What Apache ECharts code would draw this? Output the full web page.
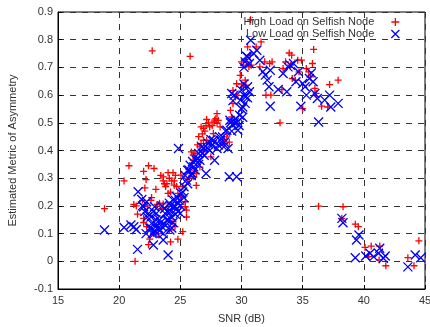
<!DOCTYPE html>
<html>
<head>
<meta charset="utf-8">
<script src="https://cdn.jsdelivr.net/npm/echarts@6/dist/echarts.min.js"></script>
<style>
  html, body { margin: 0; padding: 0; background: #fff; }
  #chart { width: 430px; height: 327px; }
</style>
</head>
<body>
<div id="chart"></div>
<script>
// axis ranges / ticks
const xTicks = [15, 20, 25, 30, 35, 40, 45]
const yTicks = [-0.1, 0, 0.1, 0.2, 0.3, 0.4, 0.5, 0.6, 0.7, 0.8, 0.9]

const seriesNames = ['High Load on Selfish Node', 'Low Load on Selfish Node']

// [SNR dB, metric]
const highLoad = [
  [18.8, 0.19], [20.4, 0.29], [20.8, 0.345], [21.3, 0.0], [21.2, 0.205], [21.4, 0.2], [21.5, 0.17],
  [21.9, 0.22], [22.0, 0.325], [22.2, 0.295], [22.1, 0.265], [22.4, 0.345], [22.7, 0.76], [22.85, 0.335],
  [23.0, 0.26], [22.65, 0.23], [22.5, 0.08], [22.4, 0.06], [22.0, 0.155], [22.25, 0.125], [23.2, 0.1],
  [23.4, 0.31], [23.6, 0.305], [23.7, 0.28], [23.8, 0.27], [24.0, 0.32], [24.4, 0.32], [24.3, 0.29],
  [24.5, 0.275], [24.0, 0.245], [24.2, 0.07], [24.8, 0.08], [25.2, 0.107], [24.56, 0.125], [23.6, 0.207],
  [23.3, 0.21], [25.5, 0.16], [25.4, 0.197], [24.4, 0.142], [24.1, 0.113], [24.7, 0.27], [25.1, 0.233],
  [25.8, 0.74], [25.9, 0.395], [26.05, 0.383], [26.1, 0.305], [26.3, 0.274], [26.6, 0.413], [26.7, 0.485],
  [26.9, 0.48], [27.15, 0.512], [27.4, 0.485], [27.75, 0.503], [27.9, 0.515], [28.1, 0.509], [27.7, 0.461],
  [27.15, 0.437], [26.7, 0.425], [26.9, 0.395], [26.3, 0.317], [26.6, 0.34], [28.25, 0.485], [28.5, 0.425],
  [28.8, 0.449], [29.1, 0.545], [29.2, 0.521], [29.3, 0.569], [29.5, 0.593], [29.3, 0.617], [29.6, 0.641],
  [29.9, 0.671], [30.0, 0.72], [30.15, 0.708], [30.3, 0.654], [30.35, 0.636], [30.15, 0.63], [30.6, 0.702],
  [30.75, 0.872], [30.5, 0.774], [30.7, 0.744], [30.8, 0.708], [31.2, 0.774], [31.6, 0.792], [31.5, 0.702],
  [31.9, 0.72], [32.3, 0.714], [32.4, 0.6], [33.15, 0.5], [33.4, 0.696], [33.6, 0.72], [33.9, 0.752],
  [34.1, 0.744], [34.15, 0.66], [34.0, 0.708], [34.4, 0.654], [34.6, 0.726], [34.7, 0.684], [34.9, 0.726],
  [35.0, 0.551], [35.3, 0.696], [35.5, 0.684], [35.65, 0.666], [35.8, 0.714], [35.9, 0.765], [36.0, 0.624],
  [36.1, 0.606], [36.3, 0.199], [36.55, 0.56], [37.05, 0.557], [37.2, 0.638], [37.9, 0.654], [38.3, 0.197],
  [38.2, 0.155], [39.3, 0.134], [39.55, 0.125], [40.1, 0.05], [40.6, 0.055], [40.4, 0.017], [41.3, 0.055],
  [41.25, 0.005], [41.8, -0.016], [43.6, 0.013], [44.1, -0.016], [44.5, 0.074], [25.05, 0.311], [25.2, 0.27],
  [25.5, 0.185], [25.4, 0.215], [28.0, 0.533], [26.9, 0.437], [27.5, 0.377], [25.8, 0.329], [26.05, 0.365],
  [22.0, 0.14], [22.3, 0.2], [22.6, 0.22], [23.1, 0.205], [23.6, 0.29], [24.1, 0.3], [24.6, 0.31],
  [24.2, 0.25], [24.8, 0.245], [26.4, 0.42], [26.8, 0.46], [27.0, 0.47], [27.3, 0.5], [27.6, 0.49],
  [28.0, 0.5], [28.6, 0.44], [29.0, 0.43], [29.6, 0.6], [30.0, 0.64], [30.4, 0.72], [32.0, 0.6],
  [32.5, 0.72], [33.3, 0.62], [26.5, 0.45], [27.1, 0.49], [27.8, 0.51], [26.2, 0.39], [25.7, 0.3],
  [23.9, 0.28], [24.5, 0.29], [23.5, 0.19], [22.8, 0.1]
]

const lowLoad = [
  [18.8, 0.113], [20.4, 0.122], [20.96, 0.131], [21.2, 0.125], [21.4, 0.115], [21.5, 0.043], [21.55, 0.251],
  [21.85, 0.223], [22.0, 0.197], [22.25, 0.215], [22.4, 0.173], [22.65, 0.137], [22.65, 0.119], [22.85, 0.1],
  [22.8, 0.059], [22.9, 0.197], [23.05, 0.173], [23.3, 0.149], [23.5, 0.125], [23.6, 0.077], [23.75, 0.173],
  [23.9, 0.149], [24.0, 0.023], [24.15, 0.113], [24.3, 0.16], [24.4, 0.221], [24.55, 0.197], [24.7, 0.233],
  [24.85, 0.407], [24.85, 0.209], [25.0, 0.173], [25.1, 0.245], [25.3, 0.269], [25.5, 0.293], [25.6, 0.329],
  [25.8, 0.347], [25.95, 0.317], [26.1, 0.341], [26.3, 0.365], [26.5, 0.389], [26.6, 0.365], [26.75, 0.413],
  [26.95, 0.383], [27.1, 0.317], [27.3, 0.425], [27.4, 0.4], [27.7, 0.437], [27.8, 0.365], [28.0, 0.407],
  [28.25, 0.437], [28.45, 0.449], [28.55, 0.413], [28.8, 0.473], [28.9, 0.407], [29.0, 0.305], [29.05, 0.509],
  [29.2, 0.606], [29.3, 0.491], [29.5, 0.515], [29.6, 0.305], [29.7, 0.473], [29.85, 0.527], [29.9, 0.582],
  [30.0, 0.618], [30.1, 0.557], [30.2, 0.6], [30.35, 0.594], [30.5, 0.63], [30.65, 0.612], [30.3, 0.72],
  [30.5, 0.738], [30.65, 0.714], [30.75, 0.798], [31.0, 0.75], [31.25, 0.762], [31.5, 0.726], [31.75, 0.684],
  [31.95, 0.672], [32.1, 0.654], [32.25, 0.63], [32.35, 0.56], [32.35, 0.69], [33.0, 0.62], [33.4, 0.678],
  [33.7, 0.612], [33.8, 0.702], [34.0, 0.708], [34.25, 0.714], [34.45, 0.648], [34.65, 0.684], [34.85, 0.56],
  [35.0, 0.642], [35.2, 0.63], [35.3, 0.6], [35.55, 0.66], [35.7, 0.68], [35.85, 0.648], [36.0, 0.606],
  [36.2, 0.588], [36.3, 0.503], [36.8, 0.582], [37.2, 0.6], [37.3, 0.557], [37.9, 0.57], [38.2, 0.155],
  [38.3, 0.139], [39.3, 0.013], [39.4, 0.077], [39.6, 0.095], [40.15, 0.019], [40.5, 0.029], [40.8, 0.017],
  [41.2, 0.029], [41.3, 0.047], [41.75, 0.019], [41.6, 0.011], [43.6, -0.02], [44.2, 0.023], [44.65, 0.013],
  [22.5, 0.12], [22.7, 0.1], [22.9, 0.11], [23.2, 0.12], [23.4, 0.14], [23.7, 0.19], [24.0, 0.15],
  [24.2, 0.18], [24.5, 0.2], [24.7, 0.19], [24.9, 0.22], [25.2, 0.25], [25.6, 0.28], [25.9, 0.31],
  [26.2, 0.33], [26.5, 0.35], [26.8, 0.39], [27.2, 0.41], [27.6, 0.42], [28.2, 0.45], [28.7, 0.47],
  [29.1, 0.5], [29.4, 0.5], [29.8, 0.49], [30.1, 0.52], [30.3, 0.57], [30.5, 0.59], [30.2, 0.7],
  [30.4, 0.74], [29.4, 0.6], [22.1, 0.18], [22.3, 0.16], [21.9, 0.2], [23.0, 0.15], [24.3, 0.12],
  [24.6, 0.17], [24.1, 0.21], [23.5, 0.2], [22.6, 0.16], [22.8, 0.18], [23.1, 0.13], [23.3, 0.11],
  [23.8, 0.13], [24.0, 0.18], [24.4, 0.14], [24.6, 0.22], [24.8, 0.18], [25.0, 0.2], [25.3, 0.23],
  [25.4, 0.31], [25.7, 0.33], [26.0, 0.36], [26.4, 0.37], [26.9, 0.41], [27.5, 0.44], [28.1, 0.42],
  [28.6, 0.43], [29.2, 0.47], [29.6, 0.5], [30.0, 0.55], [30.2, 0.64], [29.3, 0.58], [22.2, 0.1],
  [23.6, 0.1], [24.2, 0.2]
]

const plusPath = 'path://M0,5L10,5M5,0L5,10'
const crossPath = 'path://M0,0L10,10M0,10L10,0'
const font = '"Liberation Sans", Arial, sans-serif'

const chart = echarts.init(document.getElementById('chart'))

const gridLine = {
  show: true,
  lineStyle: { color: '#333', type: [6, 6], width: 1 }
}

chart.setOption({
  animation: false,
  textStyle: { fontFamily: font },
  grid: {
    left: 58, right: 5, top: 12, bottom: 38,
    containLabel: false,
    outerBoundsMode: 'none',
    show: true,
    borderColor: '#000',
    borderWidth: 1
  },
  legend: {
    orient: 'vertical',
    right: 25,
    top: 11,
    align: 'right',
    itemGap: 0,
    itemWidth: 8,
    itemHeight: 8,
    selectedMode: false,
    textStyle: { fontSize: 11, lineHeight: 12, color: '#333', fontFamily: font, padding: [0, 12, 0, 0] },
    data: [
      { name: seriesNames[0], icon: plusPath, itemStyle: { color: '#f00', borderColor: '#f00', borderWidth: 1.3 } },
      { name: seriesNames[1], icon: crossPath, itemStyle: { color: '#00f', borderColor: '#00f', borderWidth: 1.3 } }
    ]
  },
  xAxis: {
    type: 'value',
    min: xTicks[0],
    max: xTicks[xTicks.length - 1],
    interval: 5,
    name: 'SNR (dB)',
    nameLocation: 'middle',
    nameGap: 24,
    nameTextStyle: { fontSize: 11, color: '#333', fontFamily: font },
    axisLine: { show: true, onZero: false, lineStyle: { color: '#000' } },
    axisTick: { show: true, inside: true, length: 4, lineStyle: { color: '#000' } },
    axisLabel: { fontSize: 11, color: '#333', margin: 6, fontFamily: font },
    splitLine: gridLine
  },
  yAxis: {
    type: 'value',
    min: yTicks[0],
    max: yTicks[yTicks.length - 1],
    interval: 0.1,
    name: 'Estimated Metric of Asymmetry',
    nameLocation: 'middle',
    nameGap: 40,
    nameTextStyle: { fontSize: 11, color: '#333', fontFamily: font },
    axisLine: { show: true, onZero: false, lineStyle: { color: '#000' } },
    axisTick: { show: true, inside: true, length: 4, lineStyle: { color: '#000' } },
    axisLabel: {
      fontSize: 11, color: '#333', margin: 5, fontFamily: font,
      formatter: v => String(Math.round(v * 10) / 10)
    },
    splitLine: gridLine
  },
  series: [
    {
      name: seriesNames[0],
      type: 'scatter',
      data: highLoad,
      symbol: plusPath,
      symbolSize: 7,
      itemStyle: { color: '#f00', borderColor: '#f00', borderWidth: 1.3, opacity: 1 },
      z: 2
    },
    {
      name: seriesNames[1],
      type: 'scatter',
      data: lowLoad,
      symbol: crossPath,
      symbolSize: 9,
      itemStyle: { color: '#00f', borderColor: '#00f', borderWidth: 1.3, opacity: 1 },
      z: 3
    }
  ]
})

window.addEventListener('resize', () => {
  chart.resize()
})
</script>
</body>
</html>
